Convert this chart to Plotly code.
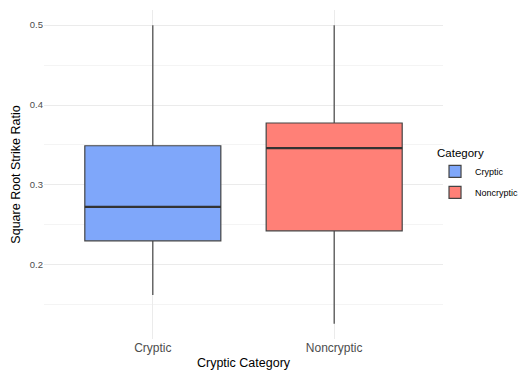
import plotly.graph_objects as go

categories = ["Cryptic", "Noncryptic"]
lower_whisker = [0.162, 0.126]
q1 = [0.230, 0.2425]
median = [0.2725, 0.346]
q3 = [0.349, 0.3775]
upper_whisker = [0.500, 0.500]
fill_colors = ["#7FA7FA", "#FF8077"]
y_tick_vals = [0.2, 0.3, 0.4, 0.5]

fig = go.Figure()
box_w = 0.75
for i, cat in enumerate(categories):
    fig.add_trace(go.Box(
        x=[i], q1=[q1[i]], median=[median[i]], q3=[q3[i]],
        lowerfence=[lower_whisker[i]], upperfence=[upper_whisker[i]],
        name=cat, fillcolor=fill_colors[i],
        line=dict(color="#444444", width=1.2),
        width=box_w, whiskerwidth=0, boxpoints=False,
        hoverinfo="skip", legendgroup=cat,
    ))
    fig.add_trace(go.Scatter(
        x=[i - box_w / 2, i + box_w / 2], y=[median[i], median[i]],
        mode="lines", line=dict(color="#333333", width=2.2),
        showlegend=False, hoverinfo="skip", legendgroup=cat,
    ))

fig.update_layout(
    width=520, height=373,
    margin=dict(l=44, r=77, t=10, b=34, autoexpand=False),
    plot_bgcolor="white", paper_bgcolor="white",
    font=dict(family="Liberation Sans, Arial, sans-serif", color="#000000"),
    boxmode="overlay",
    showlegend=True,
    legend=dict(
        title=dict(text="Category", font=dict(size=11.5, color="#000000")),
        font=dict(size=9, color="#000000"),
        x=0.98, xanchor="left", y=0.5, yanchor="middle",
        bgcolor="rgba(0,0,0,0)", tracegroupgap=2,
    ),
)
fig.update_xaxes(
    range=[-0.6, 1.6], tickvals=[0, 1], ticktext=categories,
    showgrid=True, gridcolor="#EBEBEB", gridwidth=1, zeroline=False,
    showline=False, ticks="", tickfont=dict(size=12, color="#4D4D4D"),
    title=dict(text="Cryptic Category", font=dict(size=12.5, color="#000000"), standoff=4),
)
fig.update_yaxes(
    range=[0.107, 0.519], tickvals=y_tick_vals,
    ticktext=[str(v) for v in y_tick_vals],
    showgrid=True, gridcolor="#EBEBEB", gridwidth=1, zeroline=False,
    showline=False, ticks="", tickfont=dict(size=9.5, color="#4D4D4D"),
    minor=dict(tickvals=[0.15, 0.25, 0.35, 0.45], showgrid=True, gridcolor="#F4F4F4", gridwidth=1),
    title=dict(text="Square Root Strike Ratio", font=dict(size=12.5, color="#000000"), standoff=6),
)

fig.write_html("out.html")
